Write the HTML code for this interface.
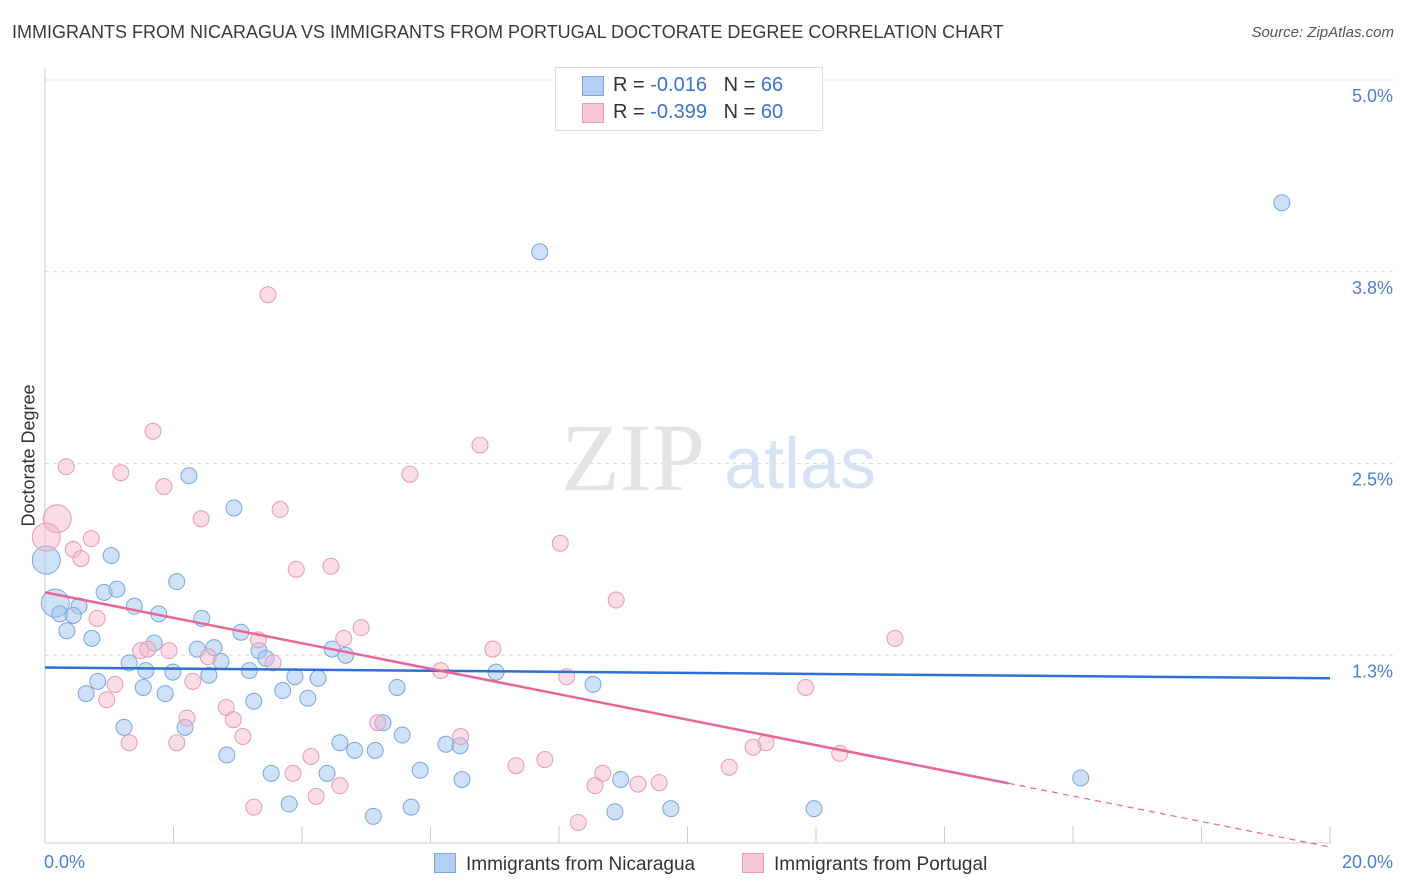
<!DOCTYPE html>
<html><head><meta charset="utf-8">
<style>
body{margin:0;background:#fff;font-family:"Liberation Sans",sans-serif;}
#wrap{position:relative;width:1406px;height:892px;overflow:hidden;}
.t{position:absolute;white-space:nowrap;}
</style></head><body>
<div id="wrap">
<div class="t" style="left:12px;top:22px;font-size:18px;color:#3a3a3a;">IMMIGRANTS FROM NICARAGUA VS IMMIGRANTS FROM PORTUGAL DOCTORATE DEGREE CORRELATION CHART</div>
<div class="t" style="right:12px;top:24px;font-size:15px;color:#555;font-style:italic;">Source: ZipAtlas.com</div>
<svg id="svg" width="1406" height="892" style="position:absolute;left:0;top:0"></svg>
</div>
<script>
const xTicks=[0,2,4,6,8,10,12,14,16,18,20];
const yTicks=[1.25,2.5,3.75,5.0];
const yTickLabels=["1.3%","2.5%","3.8%","5.0%"];
const nicX=[19.25,7.70,2.24,2.94,1.03,0.02,2.05,0.92,1.12,0.16,0.53,1.39,0.23,0.44,1.77,2.44,0.34,0.73,1.70,3.05,2.37,2.63,3.33,4.47,4.68,3.44,1.31,2.74,1.57,1.99,2.55,3.18,3.89,4.25,7.02,8.53,5.48,0.82,0.64,1.53,1.87,3.70,4.09,3.25,1.23,2.18,5.26,5.56,4.59,6.24,6.46,4.82,5.14,2.83,3.52,4.39,5.84,6.49,8.96,16.12,3.80,5.70,8.87,9.74,11.97,5.11];
const nicY=[4.20,3.88,2.42,2.21,1.90,1.87,1.73,1.66,1.68,1.59,1.57,1.57,1.52,1.51,1.52,1.49,1.41,1.36,1.33,1.40,1.29,1.30,1.28,1.29,1.25,1.23,1.20,1.21,1.15,1.14,1.12,1.15,1.11,1.10,1.14,1.06,1.04,1.08,1.00,1.04,1.00,1.02,0.97,0.95,0.78,0.78,0.81,0.73,0.68,0.67,0.66,0.63,0.63,0.60,0.48,0.48,0.50,0.44,0.44,0.45,0.28,0.26,0.23,0.25,0.25,0.20];
const nicBig=[5,9];
const porX=[3.47,1.68,6.77,0.33,1.18,1.85,5.68,0.19,2.43,3.66,0.02,0.72,0.44,0.56,8.02,3.91,4.45,8.89,0.81,4.92,4.65,3.32,13.23,1.49,1.93,1.60,2.54,6.97,3.55,6.16,8.12,1.09,2.30,11.84,0.96,2.82,2.21,2.93,5.18,6.47,3.08,1.31,2.05,11.22,11.02,4.14,12.37,7.78,7.33,10.65,3.86,8.68,4.59,8.56,9.23,9.56,4.22,3.25,8.30];
const porY=[3.60,2.71,2.62,2.48,2.44,2.35,2.43,2.14,2.14,2.20,2.02,2.01,1.94,1.88,1.98,1.81,1.83,1.61,1.49,1.43,1.36,1.35,1.36,1.28,1.28,1.29,1.24,1.29,1.20,1.15,1.11,1.06,1.08,1.04,0.96,0.91,0.84,0.83,0.81,0.72,0.72,0.68,0.68,0.68,0.65,0.59,0.61,0.57,0.53,0.52,0.48,0.48,0.40,0.40,0.41,0.42,0.33,0.26,0.16];
const porBig=[7,10];
const nicTrend=[1.17,1.10];
const porTrend=[1.66,0.0];
const porSolidEnd=15.0;

const X=v=>45+v*64.25, Y=v=>847-v*153.4;
const svg=document.getElementById('svg');
const NS='http://www.w3.org/2000/svg';
function mk(tag,attrs){const e=document.createElementNS(NS,tag);for(const k in attrs)e.setAttribute(k,attrs[k]);svg.appendChild(e);return e;}
// gridlines
yTicks.forEach((v,i)=>{
 const l=mk('line',{x1:45,x2:1393,y1:Y(v),y2:Y(v),stroke:'#dcdcdc','stroke-dasharray':'4,4'});
 
 
 const t=mk('text',{x:1393,y:Y(v)+22,'text-anchor':'end','font-size':18,fill:'#4a7fd4','font-family':'Liberation Sans'});
 t.textContent=yTickLabels[i];
 
 
});
const topG=mk('line',{x1:45,x2:1393,y1:80,y2:80,stroke:'#dcdcdc','stroke-dasharray':'4,4'});


const ya=mk('line',{x1:45,x2:45,y1:68,y2:843,stroke:'#ccc'});


const xa=mk('line',{x1:45,x2:1330,y1:843,y2:843,stroke:'#ccc'});


xTicks.forEach(v=>{
 const l=mk('line',{x1:X(v),x2:X(v),y1:826,y2:843,stroke:'#ccc'});
 
 
});
// watermark
const w1=mk('text',{x:633,y:490,'text-anchor':'middle','font-size':96,fill:'#e4e4e4','font-family':'Liberation Serif'});
w1.textContent='ZIP';


const w2=mk('text',{x:800,y:488,'text-anchor':'middle','font-size':72,fill:'#d6e3f5','font-family':'Liberation Sans'});
w2.textContent='atlas';


// points
nicX.forEach((x,i)=>{
 const c=mk('circle',{cx:X(x),cy:Y(nicY[i]),r:nicBig.includes(i)?14:8,fill:'rgba(160,195,240,0.5)',stroke:'#7aa7e0','stroke-width':1});
 
 
});
porX.forEach((x,i)=>{
 const c=mk('circle',{cx:X(x),cy:Y(porY[i]),r:porBig.includes(i)?14:8,fill:'rgba(245,180,200,0.45)',stroke:'#e89ab5','stroke-width':1});
 
 
});
// trends
const bt=mk('line',{x1:X(0),y1:Y(nicTrend[0]),x2:X(20),y2:Y(nicTrend[1]),stroke:'#2d6fd6','stroke-width':2.5});


const pv=x=>porTrend[0]+(porTrend[1]-porTrend[0])*x/20;
const pt=mk('line',{x1:X(0),y1:Y(pv(0)),x2:X(porSolidEnd),y2:Y(pv(porSolidEnd)),stroke:'#e8659a','stroke-width':2.5});


const pd=mk('line',{x1:X(porSolidEnd),y1:Y(pv(porSolidEnd)),x2:X(20),y2:Y(pv(20)),stroke:'#e8659a','stroke-width':1.2,'stroke-dasharray':'6,5'});


</script>
<div class="t" style="left:-42px;top:445px;font-size:18px;color:#333;transform:rotate(-90deg);">Doctorate Degree</div>
<div class="t" style="left:44px;top:852px;font-size:18px;color:#4a7fd4;">0.0%</div>
<div class="t" style="right:13px;top:852px;font-size:18px;color:#4a7fd4;">20.0%</div>
<div style="position:absolute;left:555px;top:67px;width:266px;height:62px;border:1px solid #ddd;background:#fff;font-size:20px;">
 <div style="position:absolute;left:26px;top:8px;width:20px;height:18px;background:#b5cff3;border:1px solid #7aa7e0;"></div>
 <div class="t" style="left:57px;top:6px;color:#333;">R = <span style="color:#3b73d1">-0.016</span>&nbsp;&nbsp;&nbsp;N = <span style="color:#3b73d1">66</span></div>
 <div style="position:absolute;left:26px;top:35px;width:20px;height:18px;background:#f8c8d7;border:1px solid #e89ab5;"></div>
 <div class="t" style="left:57px;top:33px;color:#333;">R = <span style="color:#3b73d1">-0.399</span>&nbsp;&nbsp;&nbsp;N = <span style="color:#3b73d1">60</span></div>
</div>
<div style="position:absolute;left:434px;top:853px;font-size:19px;color:#333;">
 <span style="display:inline-block;width:20px;height:18px;background:#b5cff3;border:1px solid #7aa7e0;vertical-align:-3px;margin-right:10px;"></span>Immigrants from Nicaragua</div>
<div style="position:absolute;left:742px;top:853px;font-size:19px;color:#333;">
 <span style="display:inline-block;width:20px;height:18px;background:#f8c8d7;border:1px solid #e89ab5;vertical-align:-3px;margin-right:10px;"></span>Immigrants from Portugal</div>
</body></html>
